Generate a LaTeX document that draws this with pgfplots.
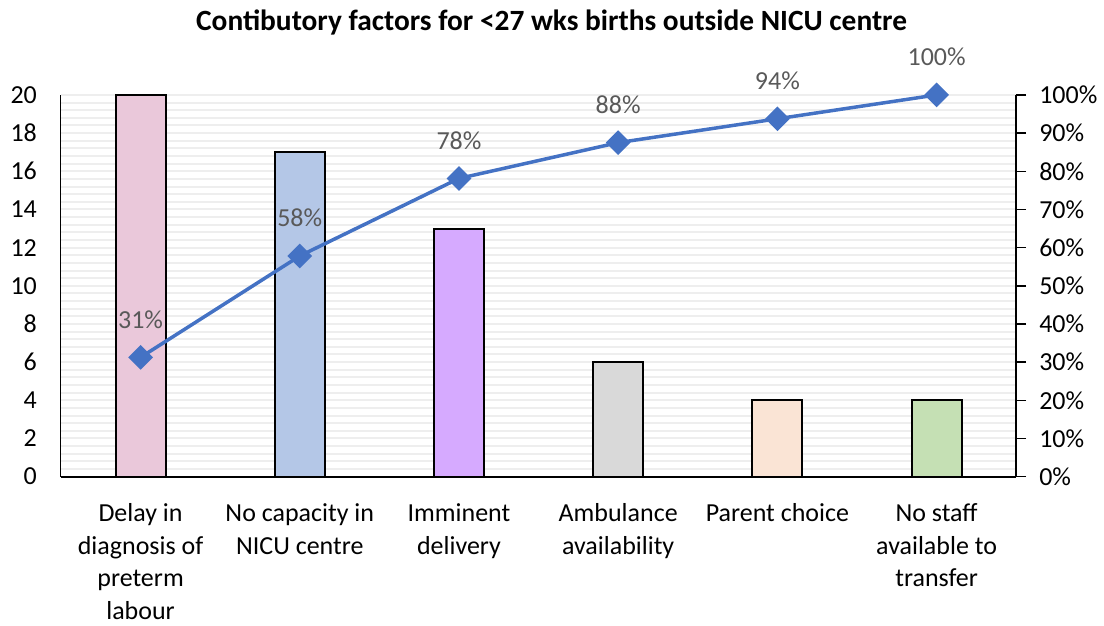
\documentclass[border=0pt]{standalone}
\usepackage{pgfplots}
\pgfplotsset{compat=1.18}
\usepackage{fontspec}
\setmainfont{Carlito}
\definecolor{c1}{RGB}{234,200,218}
\definecolor{c2}{RGB}{180,199,231}
\definecolor{c3}{RGB}{214,170,255}
\definecolor{c4}{RGB}{217,217,217}
\definecolor{c5}{RGB}{250,228,213}
\definecolor{c6}{RGB}{197,224,180}
\definecolor{lineblue}{RGB}{68,114,196}
\definecolor{lblgrey}{RGB}{89,89,89}
\definecolor{stripe}{RGB}{238,238,238}
\begin{document}
\begin{tikzpicture}
\pgfplotsset{
  base/.style={scale only axis, width=478pt, height=191pt, xmin=-0.5, xmax=5.5,
    at={(0,0)}, anchor=south west,
    /pgf/number format/assume math mode=true,
    tick label style={font=\fontsize{13}{16.25}\selectfont, black},
  },
}
\begin{axis}[base,
  ymin=0, ymax=20, ytick={0,2,...,20}, minor y tick num=4,
  ymajorgrids, yminorgrids,
  major grid style={stripe, line width=1pt},
  minor grid style={stripe, line width=1pt},
  axis y line*=left, axis x line*=bottom,
  x axis line style={line width=1pt,-},
  y axis line style={line width=0.5pt,-},
  major tick length=0pt, minor tick length=0pt,
  xtick={0,...,5},
  xticklabels={Delay in\\diagnosis of\\preterm\\labour, No capacity in\\NICU centre, Imminent\\delivery, Ambulance\\availability, Parent choice, No staff\\available to\\transfer},
  xticklabel style={align=center, anchor=north, yshift=-10pt},
  yticklabel style={xshift=-8.5pt},
  ybar, bar width=25pt,
]
\addplot[fill=c1, draw=black, line width=1pt, bar shift=0pt] coordinates {(0,20)};
\addplot[fill=c2, draw=black, line width=1pt, bar shift=0pt] coordinates {(1,17)};
\addplot[fill=c3, draw=black, line width=1pt, bar shift=0pt] coordinates {(2,13)};
\addplot[fill=c4, draw=black, line width=1pt, bar shift=0pt] coordinates {(3,6)};
\addplot[fill=c5, draw=black, line width=1pt, bar shift=0pt] coordinates {(4,4)};
\addplot[fill=c6, draw=black, line width=1pt, bar shift=0pt] coordinates {(5,4)};
\end{axis}
\begin{axis}[base,
  ymin=0, ymax=1,
  axis y line*=right, axis x line=none,
  y axis line style={line width=1pt,-},
  ytick={0,0.1,0.2,0.3,0.4,0.5,0.6,0.7,0.8,0.9,1},
  yticklabels={0\%,10\%,20\%,30\%,40\%,50\%,60\%,70\%,80\%,90\%,100\%},
  tick align=outside, major tick length=5pt,
  ytick style={black, line width=0.75pt},
  yticklabel style={xshift=3pt},
]
\addplot[color=lineblue, line width=1.75pt, mark=square*, mark size=3.5pt,
  mark options={rotate=45},
  point meta=explicit,
  nodes near coords={\pgfmathprintnumber[fixed,precision=0]{\pgfplotspointmeta}\%},
  nodes near coords style={anchor=base, yshift=14.5pt, text=lblgrey, font=\fontsize{13}{16.25}\selectfont},
] table[meta=lab] {
x y lab
0 0.3125 31
1 0.578125 58
2 0.78125 78
3 0.875 88
4 0.9375 94
5 1.0 100
};
\end{axis}
\node[font=\bfseries\fontsize{14.7}{17}\selectfont] at (245.5pt,227.5pt) {Contibutory factors for <27 wks births outside NICU centre};
\path[use as bounding box] (-30.5pt,-72pt) rectangle (521.5pt,238.5pt);
\end{tikzpicture}
\end{document}
